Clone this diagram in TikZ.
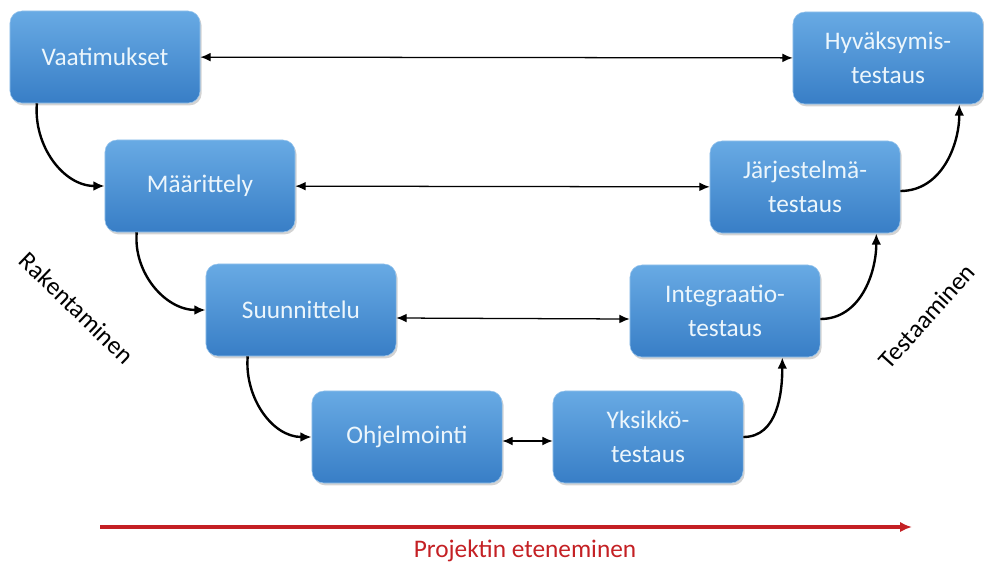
\documentclass[tikz,border=0pt]{standalone}
\usepackage{fontspec}
\setmainfont{Carlito}
\usetikzlibrary{arrows.meta,shadows}
\definecolor{boxtop}{RGB}{104,170,228}
\definecolor{boxbot}{RGB}{56,126,198}
\definecolor{boxtext}{RGB}{236,246,252}
\definecolor{progred}{RGB}{196,32,36}
\tikzset{
  phase/.style={rounded corners=0.3cm, top color=boxtop, bottom color=boxbot,
    draw=boxtop!70!white, line width=0.4pt, minimum width=4.75cm, minimum height=2.3cm,
    align=center, text=boxtext, font=\fontsize{18}{24}\selectfont,
    drop shadow={shadow xshift=0.04cm, shadow yshift=-0.06cm, opacity=0.35}},
  pair/.style={{Latex[length=2.6mm,width=2.2mm]}-{Latex[length=2.6mm,width=2.2mm]}, line width=0.9pt},
  flow/.style={-{Latex[length=2.8mm,width=2.4mm]}, line width=1.7pt},
  side/.style={font=\fontsize{18}{22}\selectfont}
}
\begin{document}
\begin{tikzpicture}[x=0.025cm,y=-0.025cm]
\useasboundingbox (0,0) rectangle (984,567);
\node[phase] (vaat) at (105,57) {Vaatimukset};
\node[phase] (maar) at (200,186) {M\"a\"arittely};
\node[phase] (suun) at (301,310) {Suunnittelu};
\node[phase] (ohje) at (407,437) {Ohjelmointi};
\node[phase] (yksi) at (648,437) {Yksikk\"o-\\testaus};
\node[phase] (inte) at (725,311) {Integraatio-\\testaus};
\node[phase] (jarj) at (805,187) {J\"arjestelm\"a-\\testaus};
\node[phase] (hyva) at (888,58) {Hyv\"aksymis-\\testaus};
\node[side, rotate=-44] (rak) at (77,308) {Rakentaminen};
\node[side, rotate=48] (tes) at (927,316) {Testaaminen};
\node[text=progred, side] (proj) at (525,551) {Projektin eteneminen};
\coordinate (p1) at (100,527);
\coordinate (p2) at (912,527);
\path[draw,pair] (vaat) -- (hyva);
\path[draw,pair] (maar) -- (jarj);
\path[draw,pair] ([yshift=-0.2cm]suun.east) -- ([yshift=-0.2cm]inte.west);
\path[draw,pair] ([yshift=-0.1cm]ohje.east) -- ([yshift=-0.1cm]yksi.west);
\path[draw,flow] ([xshift=0.68cm]vaat.south west) to[out=-95,in=180] (maar.west);
\path[draw,flow] ([xshift=0.8cm]maar.south west) to[out=-95,in=180] (suun.west);
\path[draw,flow] ([xshift=1.05cm]suun.south west) to[out=-95,in=180] (ohje.west);
\path[draw,flow] (yksi.east) to[out=0,in=-90] ([xshift=-0.95cm]inte.south east);
\path[draw,flow] ([yshift=-0.2cm]inte.east) to[out=0,in=-90] ([xshift=-0.6cm]jarj.south east);
\path[draw,flow] ([yshift=-0.1cm]jarj.east) to[out=0,in=-90] ([xshift=-0.6cm]hyva.south east);
\path[draw,-{Latex[length=3mm,width=2.6mm]},progred,line width=2.4pt] (p1) -- (p2);
\end{tikzpicture}
\end{document}
